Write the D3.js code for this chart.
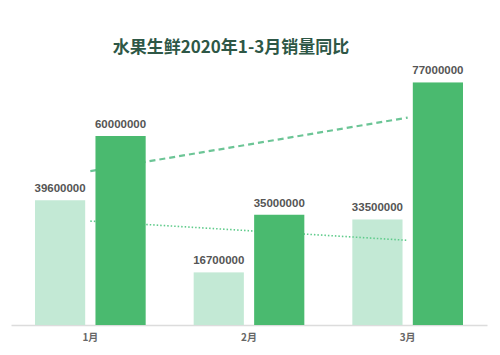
<!DOCTYPE html>
<html><head><meta charset="utf-8">
<script src="https://cdn.jsdelivr.net/npm/d3@7"></script>
<style>body{margin:0;background:#fff}svg{display:block}</style>
</head><body>
<svg id="c" width="500" height="355"></svg>
<script>
const title = "水果生鲜2020年1-3月销量同比";
const categories = ["1月", "2月", "3月"];
const seriesNames = ["2019", "2020"];
const values2019 = [39600000, 16700000, 33500000];
const values2020 = [60000000, 35000000, 77000000];
const colors = ["#c3e9d5", "#4aba6f"];

const svg = d3.select("#c");
const x0 = d3.scaleBand().domain(categories).range([11, 487]).padding(0);
const x1 = d3.scaleBand().domain(seriesNames).range([24, x0.bandwidth() - 24]).paddingInner(0.17);
const y = d3.scaleLinear().domain([0, 80000000]).range([325, 73]);

svg.append("text").attr("x", 231).attr("y", 53).attr("text-anchor", "middle")
  .attr("font-family", "Noto Sans CJK SC").attr("font-weight", "bold").attr("font-size", 17)
  .attr("fill", "#2e5746").text(title);

// axis
const axis = svg.append("g").attr("transform", "translate(0,325)")
  .call(d3.axisBottom(x0).tickSize(0).tickPadding(9));
axis.select(".domain").attr("stroke", "#dcdcdc").attr("stroke-width", 1.5);
axis.selectAll("text").attr("font-family", "Noto Sans CJK SC").attr("font-weight", "bold")
  .attr("font-size", 10).attr("fill", "#666");

const allSeries = [values2019, values2020];

function drawBars(si) {
  const g = svg.append("g");
  g.selectAll("rect").data(allSeries[si]).join("rect")
    .attr("x", (d, i) => x0(categories[i]) + x1(seriesNames[si]))
    .attr("y", d => y(d)).attr("width", x1.bandwidth())
    .attr("height", d => y(0) - y(d)).attr("fill", colors[si]);
  g.selectAll("text").data(allSeries[si]).join("text")
    .attr("x", (d, i) => x0(categories[i]) + x1(seriesNames[si]) + x1.bandwidth() / 2)
    .attr("y", d => y(d) - 8).attr("text-anchor", "middle")
    .attr("font-family", "Liberation Sans, Arial, sans-serif").attr("font-weight", "bold")
    .attr("font-size", 11.5).attr("fill", "#555").text(d => d);
}

function trend(vals) {
  const n = vals.length, xs = d3.range(n);
  const mx = d3.mean(xs), my = d3.mean(vals);
  const b = d3.sum(xs, (xi, i) => (xi - mx) * (vals[i] - my)) / d3.sum(xs, xi => (xi - mx) ** 2);
  const a = my - b * mx;
  return [[0, a], [n - 1, a + b * (n - 1)]];
}
const cx = i => x0(categories[i]) + x0.bandwidth() / 2;
const line = d3.line().x(d => cx(d[0])).y(d => y(d[1]));

drawBars(0);
svg.append("path").attr("d", line(trend(values2019))).attr("fill", "none")
  .attr("stroke", "#5fcb8b").attr("stroke-width", 1.6).attr("stroke-dasharray", "1.5,2");
svg.append("path").attr("d", line(trend(values2020))).attr("fill", "none")
  .attr("stroke", "#6cc596").attr("stroke-width", 2.2).attr("stroke-dasharray", "6,4");
drawBars(1);
</script>
</body></html>
